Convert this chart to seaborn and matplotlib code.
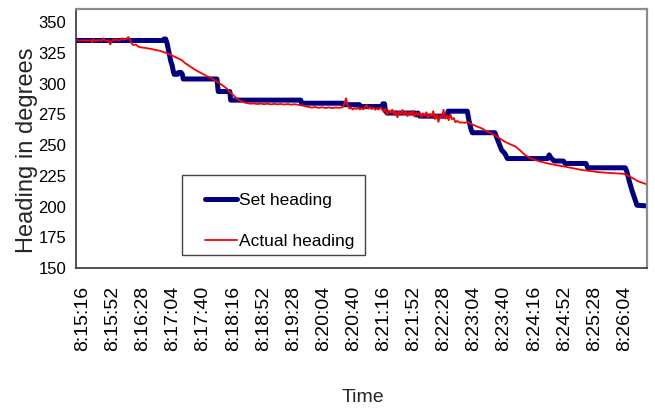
import matplotlib
matplotlib.use("Agg")
import matplotlib.pyplot as plt
from matplotlib import font_manager
from matplotlib.patches import Rectangle
from matplotlib.ticker import FixedLocator
import pandas as pd
import seaborn as sns

# Time axis: seconds after 8:15:16
tick_labels = ["8:15:16", "8:15:52", "8:16:28", "8:17:04", "8:17:40", "8:18:16",
               "8:18:52", "8:19:28", "8:20:04", "8:20:40", "8:21:16", "8:21:52",
               "8:22:28", "8:23:04", "8:23:40", "8:24:16", "8:24:52", "8:25:28",
               "8:26:04"]
tick_seconds = [36 * i for i in range(len(tick_labels))]

# Commanded heading (degrees)
set_t = [-8, 96.2, 97.2, 99.2, 100.8, 103.3, 105.4, 106.9, 108.4, 109.4, 113.5, 114.6,
         117.6, 119.2, 120.2, 160.6, 162.1, 176, 177, 260.8, 261.8, 311, 312, 331,
         332.5, 358, 359, 361, 362, 364, 398, 399, 401, 403, 436, 437, 460, 462, 464,
         466, 493, 497, 501, 505, 508, 556, 558, 560, 564, 575, 577, 602, 604, 649,
         651, 654, 657, 660, 663, 675]
set_deg = [335, 335, 336.2, 336.2, 333, 325, 318, 315, 310, 307.5, 307.5, 309,
           309, 307.5, 303.7, 303.7, 293.5, 293.5, 286.5, 286.5, 284, 284, 282.8, 282.8,
           281.3, 281.3, 283.5, 283.5, 278, 276, 276, 274.5, 276, 273.5, 273.5, 277.5, 277.5, 270, 264,
           260, 260, 253, 246, 243, 239, 239, 242, 239.5, 237, 237, 235, 235, 231.5, 231.5,
           228, 220, 213, 207, 201, 200.5]

# Measured heading (degrees)
actual_t = [-8, -6, -4, -2, 0, 2, 4, 6, 8, 10, 11.5, 13, 15, 17, 19, 21, 23, 25, 27, 29,
            31, 33, 35, 37, 39, 41, 43, 45, 47, 49, 51, 53, 54.5, 56, 58, 60.5, 63.5, 66.5,
            70.5, 74.5, 79, 83, 87, 91, 95, 98, 102, 106.5, 110.5, 114.5, 118.5, 122.5, 126,
            129, 133, 137, 141, 145, 149, 153.5, 157.5, 161.5, 164.5, 167.5, 171, 174, 177,
            180, 184, 188, 192, 196.5, 200.5, 204.5, 209, 213, 217, 221, 225, 229, 233, 237,
            241, 245.5, 249.5, 253.5, 258, 262, 266, 270, 274, 278, 282, 286, 290.5, 294.5,
            298.5, 302.5, 307, 311, 313, 315, 317, 319, 321, 323, 325.2, 327.3, 329.3, 331.4,
            333.4, 335.5, 337.5, 339.6, 341.6, 343.6, 345.7, 347.7, 349.8, 351.8, 353.9,
            355.9, 358, 360, 362, 364, 366.1, 368.2, 370.2, 372.3, 374.3, 376.4, 378.4,
            380.5, 382.5, 384.5, 386.6, 388.6, 390.7, 392.7, 394.8, 396.8, 398.9, 400.9,
            403, 405, 407, 409.1, 411.1, 413.2, 415.2, 417.3, 419.3, 421.4, 423.4, 425.5,
            427.5, 429.6, 431.6, 433.6, 435.7, 437.7, 439.8, 441.8, 443.9, 445.9, 448, 451,
            454.1, 457.2, 460.2, 464.3, 468.4, 472.5, 477.6, 482.7, 487.9, 493, 499.1,
            505.2, 511.4, 517.5, 522.6, 528.8, 534.9, 541, 548.2, 556.4, 566.6, 576.8,
            587.1, 597.3, 607.5, 617.7, 628, 638.2, 646.4, 650.5, 654.6, 658.6, 663.7,
            668.9, 675]
actual_deg = [335.0, 335.3, 334.7, 335.2, 334.8, 335.4, 334.6, 335.1, 334.9, 335.3, 333.6,
              336.0, 334.5, 335.3, 334.9, 335.5, 334.7, 336.8, 335.0, 334.4, 335.2, 331.8,
              334.6, 336.1, 335.0, 336.0, 334.8, 335.4, 336.8, 335.6, 336.2, 336.6, 337.8,
              336.5, 333.0, 331.2, 331.8, 330.0, 329.3, 329.0, 328.5, 328.0, 327.3, 326.8,
              326.0, 325.4, 324.2, 323.0, 321.6, 320.3, 319.0, 316.6, 315.0, 313.7, 311.8,
              310.2, 308.8, 307.3, 305.8, 304.6, 302.9, 301.2, 299.8, 298.4, 296.6, 294.8,
              292.6, 290.6, 288.0, 286.2, 284.9, 284.0, 283.6, 283.8, 283.3, 283.7, 283.2,
              283.6, 283.0, 283.5, 283.1, 283.4, 282.9, 283.3, 282.8, 283.2, 282.7, 282.2,
              281.6, 281.0, 280.4, 280.9, 280.2, 280.7, 280.1, 280.6, 280.0, 280.5, 280.2,
              280.8, 283.5, 288.0, 282.0, 279.6, 280.4, 278.8, 280.2, 279.3, 280.6, 278.9,
              280.0, 279.0, 280.3, 282.6, 279.5, 280.8, 279.2, 280.4, 278.7, 279.8, 278.9,
              280.6, 279.0, 277.0, 279.5, 274.5, 278.0, 276.2, 278.8, 275.2, 277.6, 272.5,
              277.0, 275.4, 278.5, 274.8, 277.2, 273.5, 276.8, 275.0, 277.9, 273.2, 276.5,
              274.7, 276.0, 272.6, 275.8, 274.0, 276.6, 271.8, 275.0, 273.4, 277.5, 271.2,
              274.6, 268.8, 274.0, 272.2, 278.6, 271.5, 273.8, 270.2, 274.8, 270.8, 272.0,
              268.5, 269.6, 268.2, 268.4, 268.0, 268.8, 267.3, 266.0, 264.8, 263.5, 261.4,
              259.8, 258.0, 255.2, 252.6, 250.6, 248.8, 246.0, 242.0, 239.6, 237.8, 236.4,
              235.0, 233.6, 232.4, 231.0, 229.7, 228.8, 227.9, 227.4, 227.0, 226.6, 225.6,
              224.3, 222.8, 220.7, 219.4, 218.0]

set_df = pd.DataFrame({"t": set_t, "heading": set_deg})
actual_df = pd.DataFrame({"t": actual_t, "heading": actual_deg})

sns.set_style("white")
installed = set(font_manager.get_font_names())
narrow = "Liberation Sans Narrow" if "Liberation Sans Narrow" in installed else "Liberation Sans"
plt.rcParams["font.family"] = ["Liberation Sans", "DejaVu Sans"]

fig = plt.figure(figsize=(6.55, 4.12), dpi=100)
ax = fig.add_axes([76 / 655, 1 - 268 / 412, 570.7 / 655, 259 / 412])

sns.lineplot(data=set_df, x="t", y="heading", ax=ax, color="#000080", linewidth=3.6,
             estimator=None, sort=False, label="Set heading")
sns.lineplot(data=actual_df, x="t", y="heading", ax=ax, color="#FF0000", linewidth=1.3,
             estimator=None, sort=False, label="Actual heading")

x0, x1 = -8, 674.6
ax.set_xlim(x0, x1)
ax.set_ylim(150, 360.6)

ax.set_yticks(range(150, 351, 25))
ax.set_yticklabels([str(v) for v in range(150, 351, 25)], fontsize=12, family=narrow)
ax.set_xticks(tick_seconds)
ax.set_xticklabels(tick_labels, rotation=90, fontsize=14)
ax.xaxis.set_minor_locator(FixedLocator([x0 + 60.4 * k for k in range(12)]))
ax.tick_params(axis="x", which="major", length=0, pad=13)
ax.tick_params(axis="x", which="minor", length=6, width=1, color="#333333", direction="out")
ax.tick_params(axis="y", which="major", length=5, width=1, color="#333333", direction="out", pad=2)
ax.tick_params(axis="both", labelcolor="black")

for side in ("left", "bottom"):
    ax.spines[side].set_color("#333333")
    ax.spines[side].set_linewidth(1.2)
for side in ("top", "right"):
    ax.spines[side].set_color("#8c8c8c")
    ax.spines[side].set_linewidth(1.6)

ax.set_xlabel("Time", fontsize=14, family=narrow)
ax.xaxis.set_label_coords(0.503, -0.468)
ax.set_ylabel("Heading in degrees", fontsize=17)
ax.yaxis.set_label_coords(-0.066, 0.456)

# Legend entries with a plain rectangular box around them
leg = ax.legend(loc="upper left", bbox_to_anchor=(0.226, 0.289),
                prop={"family": narrow, "size": 12.5}, frameon=False,
                handlelength=1.85, handletextpad=0.12, labelspacing=1.45,
                borderpad=0, borderaxespad=0)
for text in leg.get_texts():
    text.set_color("black")
ax.add_patch(Rectangle((0.1857, 0.050), 0.3207, 0.309, transform=ax.transAxes,
                       fill=False, edgecolor="#444444", linewidth=1.0, zorder=5))

fig.savefig("out.png", dpi=100)
